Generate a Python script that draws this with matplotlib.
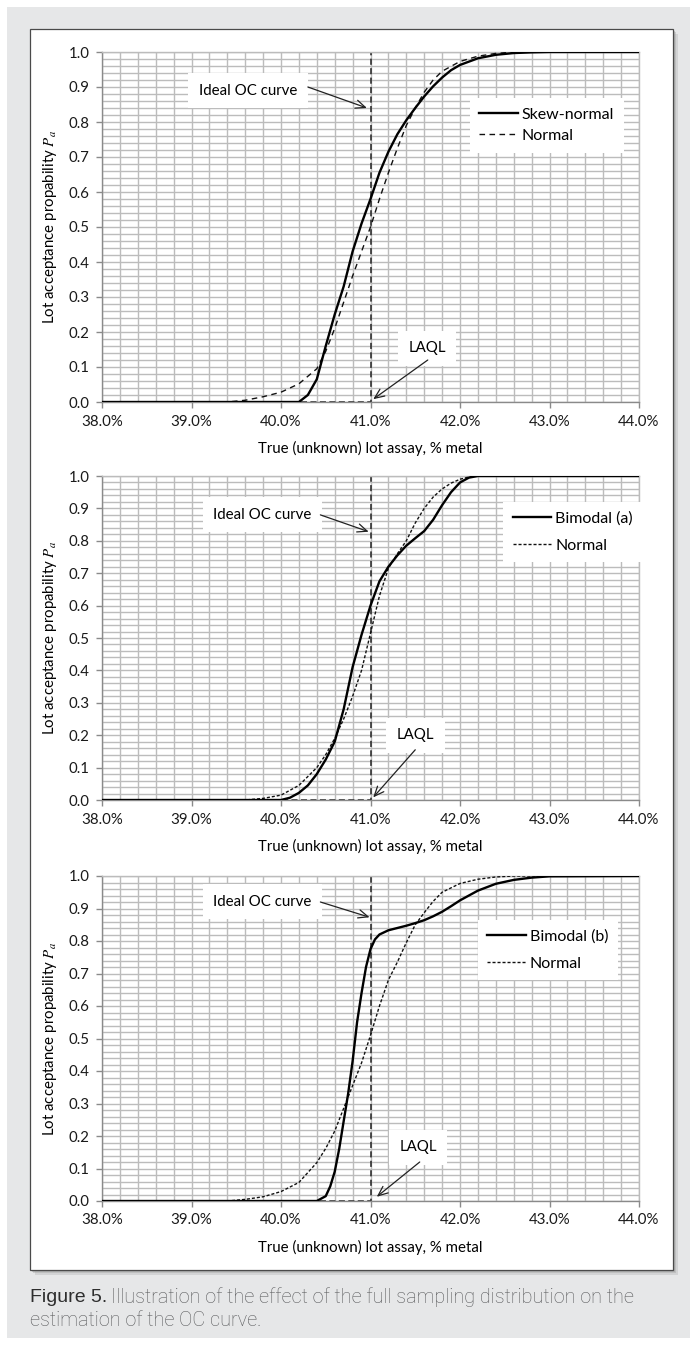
import matplotlib
matplotlib.use('Agg')
import matplotlib.pyplot as plt
from matplotlib.ticker import MultipleLocator, FuncFormatter
from matplotlib.patches import Rectangle

plt.rcParams['font.family'] = ['Lato', 'DejaVu Sans']
plt.rcParams['mathtext.fontset'] = 'stix'

# ideal OC curve (step at the LAQL)
ideal_x = [38.0, 41.0, 41.0, 44.0]
ideal_y = [0.0, 0.0, 1.0, 1.0]

# panel 1: skew-normal vs normal
skew_x = [38.0, 40.2, 40.3, 40.4, 40.5, 40.6, 40.7, 40.8, 40.9, 41.0, 41.1, 41.2, 41.3,
          41.4, 41.5, 41.6, 41.7, 41.8, 41.9, 42.0, 42.2, 42.4, 42.6, 42.8, 43.0, 44.0]
skew_y = [0.0, 0.0, 0.02, 0.065, 0.16, 0.25, 0.33, 0.43, 0.51, 0.58, 0.655, 0.715, 0.765,
          0.805, 0.84, 0.873, 0.902, 0.927, 0.948, 0.963, 0.982, 0.992, 0.997, 0.999, 1.0, 1.0]
norm1_x = [38.0, 39.4, 39.6, 39.8, 40.0, 40.2, 40.4, 40.5, 40.6, 40.7, 40.8, 40.9, 41.0,
           41.1, 41.2, 41.3, 41.4, 41.5, 41.6, 41.7, 41.8, 42.0, 42.2, 42.4, 42.6, 44.0]
norm1_y = [0.0, 0.0, 0.005, 0.015, 0.028, 0.052, 0.095, 0.145, 0.21, 0.285, 0.36, 0.43, 0.50,
           0.58, 0.655, 0.725, 0.79, 0.84, 0.885, 0.92, 0.945, 0.973, 0.988, 0.996, 1.0, 1.0]

# panel 2: bimodal (a) vs normal
bima_x = [38.0, 40.0, 40.1, 40.2, 40.3, 40.4, 40.5, 40.6, 40.7, 40.8, 40.9, 41.0, 41.1,
          41.2, 41.3, 41.4, 41.5, 41.6, 41.7, 41.8, 41.9, 42.0, 42.1, 42.2, 44.0]
bima_y = [0.0, 0.0, 0.007, 0.022, 0.045, 0.08, 0.125, 0.18, 0.28, 0.41, 0.51, 0.60, 0.675,
          0.72, 0.755, 0.785, 0.808, 0.83, 0.865, 0.91, 0.95, 0.98, 0.995, 1.0, 1.0]
norm2_x = [38.0, 39.6, 39.8, 40.0, 40.2, 40.4, 40.5, 40.6, 40.7, 40.8, 40.9, 41.0, 41.1,
           41.2, 41.3, 41.4, 41.5, 41.6, 41.7, 41.8, 41.9, 42.0, 42.1, 42.2, 44.0]
norm2_y = [0.0, 0.0, 0.005, 0.015, 0.045, 0.10, 0.14, 0.19, 0.25, 0.32, 0.40, 0.515, 0.63,
           0.715, 0.76, 0.80, 0.855, 0.90, 0.935, 0.96, 0.978, 0.99, 0.997, 1.0, 1.0]

# panel 3: bimodal (b) vs normal
bimb_x = [38.0, 40.4, 40.5, 40.55, 40.6, 40.65, 40.7, 40.75, 40.8, 40.85, 40.9, 40.95, 41.0,
          41.05, 41.1, 41.2, 41.3, 41.4, 41.5, 41.6, 41.7, 41.8, 41.9, 42.0, 42.2, 42.4,
          42.6, 42.8, 43.0, 44.0]
bimb_y = [0.0, 0.0, 0.015, 0.045, 0.09, 0.16, 0.245, 0.33, 0.43, 0.55, 0.64, 0.72, 0.775,
          0.805, 0.82, 0.833, 0.84, 0.847, 0.855, 0.864, 0.876, 0.89, 0.907, 0.925, 0.955, 0.976,
          0.988, 0.995, 0.999, 1.0]
norm3_x = [38.0, 39.4, 39.6, 39.8, 40.0, 40.2, 40.4, 40.5, 40.6, 40.7, 40.8, 40.9, 41.0,
           41.1, 41.2, 41.3, 41.4, 41.5, 41.6, 41.7, 41.8, 42.0, 42.2, 42.4, 42.6, 44.0]
norm3_y = [0.0, 0.0, 0.005, 0.013, 0.029, 0.057, 0.118, 0.162, 0.215, 0.285, 0.355, 0.425, 0.51,
           0.60, 0.68, 0.735, 0.795, 0.85, 0.887, 0.922, 0.95, 0.977, 0.99, 0.997, 1.0, 1.0]

W, H = 697, 1349
GRID = '#bcbcbc'
AXC = '#8a8a8a'


def px_rect(x0, y0, x1, y1):
    return [x0 / W, 1 - y1 / H, (x1 - x0) / W, (y1 - y0) / H]


def draw_panel(ax, sx, sy, slabel, nx, ny, ndash, leg_xy, leg_space,
               oc_txt, oc_arrow, laql_txt, laql_arrow, xlab_y):
    ax.set_xlim(38, 44)
    ax.set_ylim(0, 1)
    ax.xaxis.set_major_locator(MultipleLocator(1.0))
    ax.xaxis.set_minor_locator(MultipleLocator(0.2))
    ax.yaxis.set_major_locator(MultipleLocator(0.1))
    ax.yaxis.set_minor_locator(MultipleLocator(0.02))
    ax.xaxis.set_major_formatter(FuncFormatter(lambda v, p: '%.1f%%' % v))
    ax.yaxis.set_major_formatter(FuncFormatter(lambda v, p: '%.1f' % v))
    ax.set_axisbelow(True)
    ax.grid(True, which='both', color=GRID, lw=1.0)
    for s in ['top', 'right']:
        ax.spines[s].set_color(GRID)
        ax.spines[s].set_linewidth(1.0)
    for s in ['left', 'bottom']:
        ax.spines[s].set_color(AXC)
        ax.spines[s].set_linewidth(1.0)
    ax.tick_params(which='major', direction='out', length=4, width=1, color=AXC,
                   labelsize=10.8, pad=5, labelcolor='#1a1a1a')
    ax.tick_params(which='minor', length=0)

    ax.plot(ideal_x, ideal_y, color='#222222', lw=1.1, dashes=(4, 2.2), zorder=2)
    ax.plot(nx, ny, color='#111111', lw=1.0, dashes=ndash, label='Normal', zorder=3)
    ax.plot(sx, sy, color='#000000', lw=1.7, label=slabel, zorder=4)

    h, l = ax.get_legend_handles_labels()
    leg = ax.legend(h[::-1], l[::-1], loc='upper left', bbox_to_anchor=leg_xy,
                    borderaxespad=0, frameon=True, fancybox=False, fontsize=11.5,
                    handlelength=2.4, handletextpad=0.25, labelspacing=leg_space,
                    borderpad=0.6)
    leg.get_frame().set_edgecolor('none')
    leg.get_frame().set_facecolor('white')
    leg.get_frame().set_alpha(1)

    box = dict(boxstyle='square,pad=0.7', facecolor='white', edgecolor='none')
    ax.text(oc_txt[0], oc_txt[1], 'Ideal OC curve', ha='center', va='center',
            fontsize=10.8, bbox=box, zorder=5)
    ax.text(laql_txt[0], laql_txt[1], 'LAQL', ha='center', va='center',
            fontsize=10.8, bbox=box, zorder=5)
    arrow = dict(arrowstyle='->,head_length=0.7,head_width=0.3', color='#222222',
                 lw=0.9, shrinkA=0, shrinkB=0, mutation_scale=10)
    ax.annotate('', xy=oc_arrow[1], xytext=oc_arrow[0], arrowprops=arrow, zorder=6)
    ax.annotate('', xy=laql_arrow[1], xytext=laql_arrow[0], arrowprops=arrow, zorder=6)

    ax.set_xlabel('True (unknown) lot assay, % metal', fontsize=10.8)
    ax.xaxis.set_label_coords(0.5, xlab_y)
    ax.set_ylabel('Lot acceptance propability $P_a$', fontsize=10.8)
    ax.yaxis.set_label_coords(-0.080, 0.5)


fig = plt.figure(figsize=(W / 100, H / 100), dpi=100)
fig.patch.set_facecolor('white')

# page background, shadow and white frame
fig.add_artist(Rectangle((7 / W, 1 - 1338 / H), 683 / W, 1331 / H, transform=fig.transFigure,
                         facecolor='#e6e7e8', edgecolor='none', zorder=-10))
for off, a in [(5, 0.25), (3, 0.35), (1.5, 0.45)]:
    fig.add_artist(Rectangle(((30 + off) / W, 1 - (1270 + off) / H), 643 / W, 1241 / H,
                             transform=fig.transFigure, facecolor='#9a9a9a', alpha=a,
                             edgecolor='none', zorder=-9))
fig.add_artist(Rectangle((30 / W, 1 - 1270 / H), 643 / W, 1241 / H, transform=fig.transFigure,
                         facecolor='white', edgecolor='#4a4a4a', lw=0.9, zorder=-8))

ax1 = fig.add_axes(px_rect(102, 52, 639, 402))
ax2 = fig.add_axes(px_rect(102, 476, 639, 800))
ax3 = fig.add_axes(px_rect(102, 876, 639, 1201))

draw_panel(ax1, skew_x, skew_y, 'Skew-normal', norm1_x, norm1_y, (4, 3.2),
           (0.685, 0.869), 0.45,
           (39.63, 0.889), ((40.30, 0.90), (40.96, 0.84)),
           (41.63, 0.154), ((41.64, 0.12), (41.03, 0.008)), -0.111)
draw_panel(ax2, bima_x, bima_y, 'Bimodal (a)', norm2_x, norm2_y, (2.2, 1.4),
           (0.747, 0.92), 0.8,
           (39.79, 0.88), ((40.44, 0.88), (40.98, 0.828)),
           (41.50, 0.20), ((41.50, 0.155), (41.03, 0.008)), -0.120)
draw_panel(ax3, bimb_x, bimb_y, 'Bimodal (b)', norm3_x, norm3_y, (2.2, 1.4),
           (0.70, 0.865), 0.8,
           (39.79, 0.92), ((40.44, 0.92), (40.99, 0.873)),
           (41.53, 0.166), ((41.55, 0.12), (41.07, 0.013)), -0.120)

# caption
fig.canvas.draw()
r = fig.canvas.get_renderer()
t1 = fig.text(30 / W, 1 - 1297 / H, 'Figure 5.', fontsize=14, color='#2e2e2e',
              family=['Liberation Sans', 'DejaVu Sans'], va='center', ha='left')
bb = t1.get_window_extent(renderer=r)
fig.text((bb.x1 + 4) / W, 1 - 1297 / H,
         'Illustration of the effect of the full sampling distribution on the',
         fontsize=14.3, color='#58595b', family=['Roboto', 'DejaVu Sans'],
         fontweight='light', va='center', ha='left')
fig.text(30 / W, 1 - 1320 / H, 'estimation of the OC curve.', fontsize=14.3,
         color='#58595b', family=['Roboto', 'DejaVu Sans'], fontweight='light',
         va='center', ha='left')

fig.savefig('out.png', dpi=100)
